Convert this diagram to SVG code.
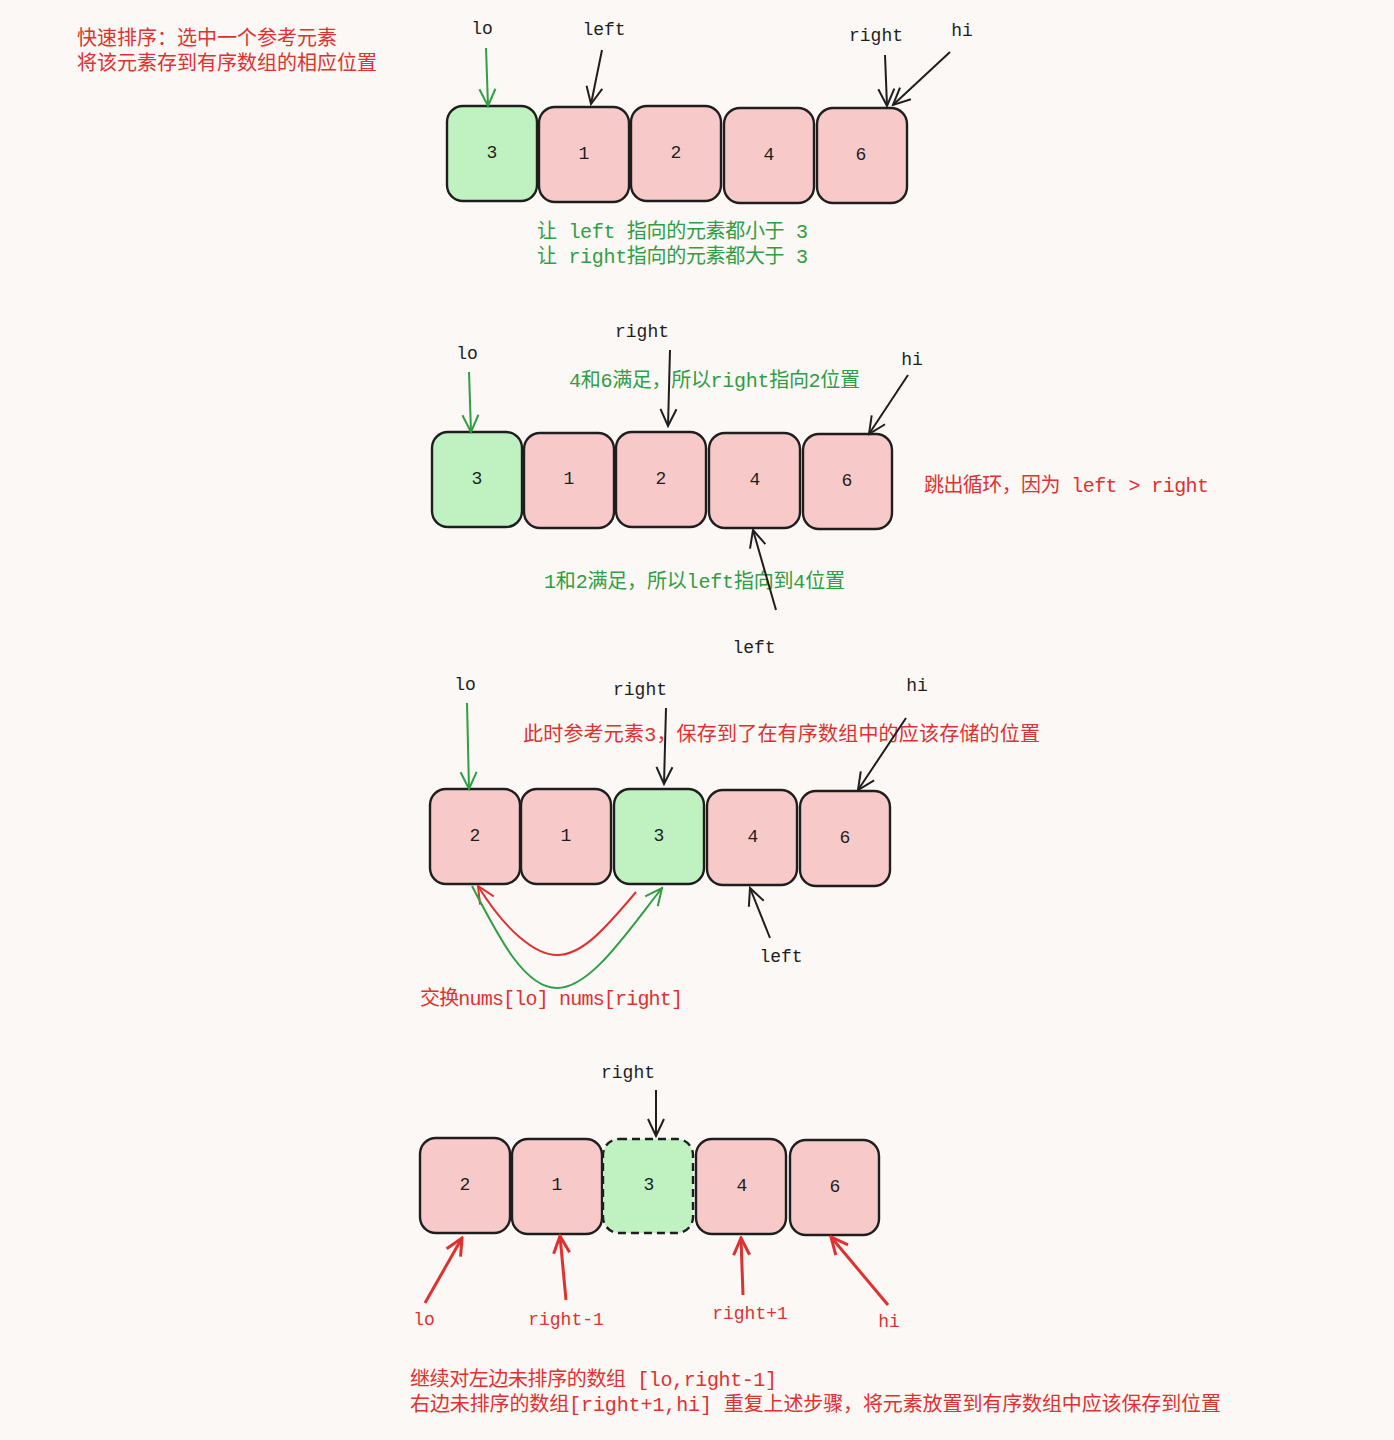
<svg xmlns="http://www.w3.org/2000/svg" width="1394" height="1440" viewBox="0 0 1394 1440">
<style>
.bg{fill:#fcf8f5}
.box{stroke:#1e1e1e;stroke-width:2.4}
.pink{fill:#f7cac9}
.green{fill:#bff1c1}
.dash{stroke-dasharray:8 5}
.num{font-family:"Liberation Mono","Noto Sans CJK SC",monospace;font-size:18px;fill:#1e1e1e;text-anchor:middle;dominant-baseline:central}
.lbl{font-family:"Liberation Mono","Noto Sans CJK SC",monospace;font-size:18px;fill:#1e1e1e;text-anchor:middle;dominant-baseline:central}
.rl{fill:#e03131}
.t{font-family:"Liberation Mono","Noto Sans CJK SC",monospace;font-size:20px;dominant-baseline:central}
.tr{fill:#e03131}
.tg{fill:#2f9e44}
.ak{stroke:#1e1e1e;stroke-width:2;fill:none;marker-end:url(#mk)}
.ag{stroke:#2f9e44;stroke-width:2;fill:none;marker-end:url(#mg)}
.ar{stroke:#e03131;stroke-width:2;fill:none;marker-end:url(#mr)}
.arw{stroke:#e03131;stroke-width:3;fill:none;marker-end:url(#mr2)}
</style>
<defs>
<marker id="mk" viewBox="0 0 20 20" refX="18" refY="10" markerWidth="20" markerHeight="20" markerUnits="userSpaceOnUse" orient="auto"><path d="M1,2 L18,10 L1,18" fill="none" stroke="#1e1e1e" stroke-width="2"/></marker>
<marker id="mg" viewBox="0 0 20 20" refX="18" refY="10" markerWidth="20" markerHeight="20" markerUnits="userSpaceOnUse" orient="auto"><path d="M1,2 L18,10 L1,18" fill="none" stroke="#2f9e44" stroke-width="2"/></marker>
<marker id="mr" viewBox="0 0 20 20" refX="18" refY="10" markerWidth="20" markerHeight="20" markerUnits="userSpaceOnUse" orient="auto"><path d="M1,2 L18,10 L1,18" fill="none" stroke="#e03131" stroke-width="2"/></marker>
<marker id="mr2" viewBox="0 0 20 20" refX="18" refY="10" markerWidth="20" markerHeight="20" markerUnits="userSpaceOnUse" orient="auto"><path d="M1,2 L18,10 L1,18" fill="none" stroke="#e03131" stroke-width="3"/></marker>
</defs>
<rect class="bg" x="0" y="0" width="1394" height="1440"/>

<g id="title">
<text class="t tr" x="77" y="39">快速排序：选中一个参考元素</text>
<text class="t tr" x="77" y="64">将该元素存到有序数组的相应位置</text>
</g>

<!-- Section 1 -->
<g id="s1-n0"><rect class="box green" x="447" y="106" width="90" height="95" rx="16"/><text class="num" x="492" y="153">3</text></g>
<g id="s1-n1"><rect class="box pink" x="539" y="107" width="90" height="95" rx="16"/><text class="num" x="584" y="154">1</text></g>
<g id="s1-n2"><rect class="box pink" x="631" y="106" width="90" height="95" rx="16"/><text class="num" x="676" y="153">2</text></g>
<g id="s1-n3"><rect class="box pink" x="724" y="108" width="90" height="95" rx="16"/><text class="num" x="769" y="155">4</text></g>
<g id="s1-n4"><rect class="box pink" x="817" y="108" width="90" height="95" rx="16"/><text class="num" x="861" y="155">6</text></g>
<g id="s1-labels">
<text class="lbl" x="482" y="29">lo</text>
<text class="lbl" x="604" y="30">left</text>
<text class="lbl" x="876" y="36">right</text>
<text class="lbl" x="962" y="31">hi</text>
<text class="t tg" x="537" y="232" textLength="271">让 left 指向的元素都小于 3</text>
<text class="t tg" x="537" y="257" textLength="271">让 right指向的元素都大于 3</text>
</g>

<!-- Section 2 -->
<g id="s2-n0"><rect class="box green" x="432" y="432" width="90" height="95" rx="16"/><text class="num" x="477" y="479">3</text></g>
<g id="s2-n1"><rect class="box pink" x="524" y="433" width="90" height="95" rx="16"/><text class="num" x="569" y="479">1</text></g>
<g id="s2-n2"><rect class="box pink" x="616" y="432" width="90" height="95" rx="16"/><text class="num" x="661" y="479">2</text></g>
<g id="s2-n3"><rect class="box pink" x="709" y="433" width="91" height="95" rx="16"/><text class="num" x="755" y="480">4</text></g>
<g id="s2-n4"><rect class="box pink" x="803" y="434" width="89" height="95" rx="16"/><text class="num" x="847" y="481">6</text></g>
<g id="s2-labels">
<text class="lbl" x="467" y="354">lo</text>
<text class="lbl" x="642" y="332">right</text>
<text class="lbl" x="912" y="360">hi</text>
<text class="lbl" x="754" y="648">left</text>
<text class="t tg" x="569" y="381" textLength="291">4和6满足，所以right指向2位置</text>
<text class="t tg" x="544" y="582" textLength="301">1和2满足，所以left指向到4位置</text>
<text class="t tr" x="924" y="486" textLength="285">跳出循环，因为 left &gt; right</text>
</g>

<!-- Section 3 -->
<g id="s3-n0"><rect class="box pink" x="430" y="789" width="90" height="95" rx="16"/><text class="num" x="475" y="836">2</text></g>
<g id="s3-n1"><rect class="box pink" x="521" y="789" width="90" height="95" rx="16"/><text class="num" x="566" y="836">1</text></g>
<g id="s3-n2"><rect class="box green" x="614" y="789" width="90" height="95" rx="16"/><text class="num" x="659" y="836">3</text></g>
<g id="s3-n3"><rect class="box pink" x="707" y="790" width="90" height="95" rx="16"/><text class="num" x="753" y="837">4</text></g>
<g id="s3-n4"><rect class="box pink" x="800" y="791" width="90" height="95" rx="16"/><text class="num" x="845" y="838">6</text></g>
<g id="s3-labels">
<text class="lbl" x="465" y="685">lo</text>
<text class="lbl" x="640" y="690">right</text>
<text class="lbl" x="917" y="686">hi</text>
<text class="lbl" x="781" y="957">left</text>
<text class="t tr" x="523" y="735" textLength="517">此时参考元素3，保存到了在有序数组中的应该存储的位置</text>
<text class="t tr" x="420" y="999" textLength="263">交换nums[lo] nums[right]</text>
</g>

<!-- Section 4 -->
<g id="s4-n0"><rect class="box pink" x="420" y="1138" width="90" height="95" rx="16"/><text class="num" x="465" y="1185">2</text></g>
<g id="s4-n1"><rect class="box pink" x="512" y="1139" width="90" height="95" rx="16"/><text class="num" x="557" y="1185">1</text></g>
<g id="s4-n2"><rect class="box green dash" x="603" y="1139" width="90" height="94" rx="16"/><text class="num" x="649" y="1185">3</text></g>
<g id="s4-n3"><rect class="box pink" x="696" y="1139" width="90" height="95" rx="16"/><text class="num" x="742" y="1186">4</text></g>
<g id="s4-n4"><rect class="box pink" x="790" y="1140" width="89" height="95" rx="16"/><text class="num" x="835" y="1187">6</text></g>
<g id="s4-labels">
<text class="lbl" x="628" y="1073">right</text>
<text class="lbl rl" x="424" y="1320">lo</text>
<text class="lbl rl" x="566" y="1320">right-1</text>
<text class="lbl rl" x="750" y="1314">right+1</text>
<text class="lbl rl" x="889" y="1322">hi</text>
<text class="t tr" x="410" y="1380" textLength="367">继续对左边未排序的数组 [lo,right-1]</text>
<text class="t tr" x="410" y="1405" textLength="811">右边未排序的数组[right+1,hi] 重复上述步骤，将元素放置到有序数组中应该保存到位置</text>
</g>

<g id="connectors">
<!-- s1 -->
<path class="ag" d="M486,48 L488,106"/>
<path class="ak" d="M602,50 L591,104"/>
<path class="ak" d="M885,55 L887,106"/>
<path class="ak" d="M950,52 L893,105"/>
<!-- s2 -->
<path class="ag" d="M469,372 L471,432"/>
<path class="ak" d="M670,350 L668,426"/>
<path class="ak" d="M908,375 L869,434"/>
<path class="ak" d="M776,610 L753,530"/>
<!-- s3 -->
<path class="ag" d="M467,703 L469,789"/>
<path class="ak" d="M666,708 L664,784"/>
<path class="ak" d="M906,718 L858,790"/>
<path class="ak" d="M770,938 L750,888"/>
<path class="ar" d="M636,892 C600,935 580,955 557,955 C535,955 505,930 478,886"/>
<path class="ag" d="M472,886 C500,940 525,988 557,988 C590,988 625,935 662,888"/>
<!-- s4 -->
<path class="ak" d="M656,1090 L656,1136"/>
<path class="arw" d="M425,1303 L462,1238"/>
<path class="arw" d="M566,1300 L560,1236"/>
<path class="arw" d="M743,1295 L741,1238"/>
<path class="arw" d="M888,1305 L831,1237"/>
</g>
</svg>
